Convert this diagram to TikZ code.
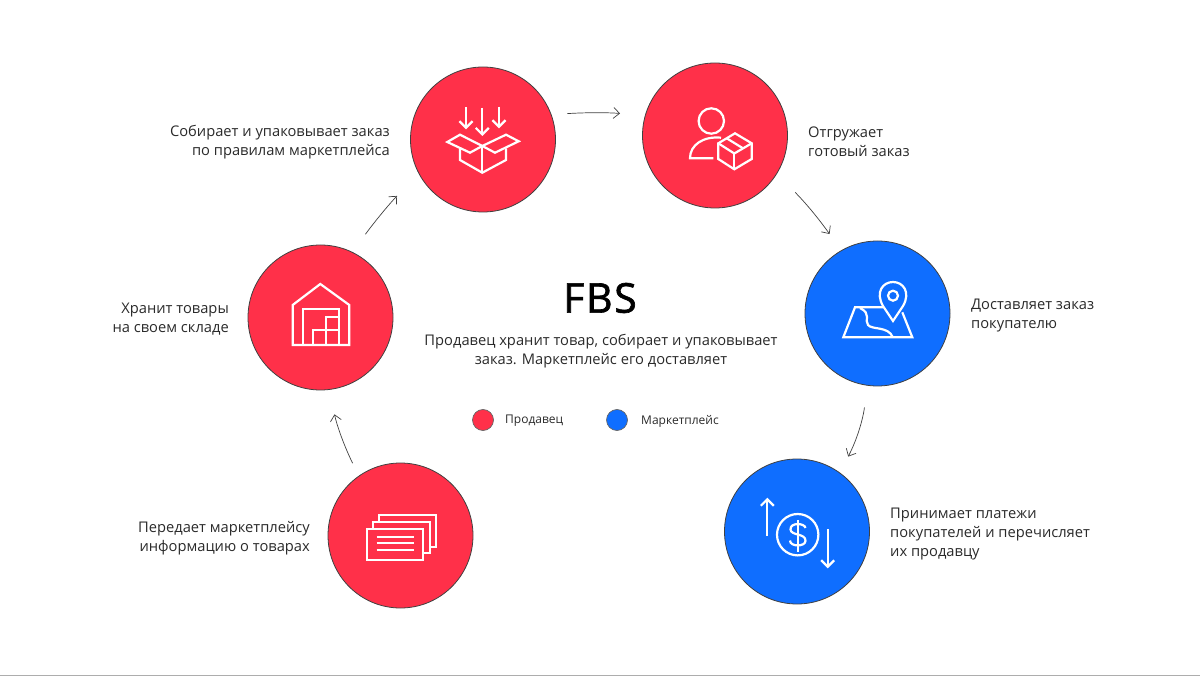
\documentclass[tikz,border=0pt]{standalone}
\usepackage{fontspec}
\setmainfont{Open Sans}
\newfontfamily\titlefont[LetterSpace=4,FakeBold=1.6]{Open Sans}
\usetikzlibrary{arrows.meta}
\definecolor{sellerred}{HTML}{FF3049}
\definecolor{marketblue}{HTML}{0F6EFF}
\definecolor{labelgray}{HTML}{2A2A2A}
\tikzset{
  stage/.style={circle,draw=black!75,line width=0.8pt,minimum size=145pt,inner sep=0pt},
  legend/.style={circle,draw=black!60,line width=0.7pt,minimum size=21pt,inner sep=0pt},
  caption/.style={inner sep=0pt,text=labelgray,font=\fontsize{14.7}{19}\selectfont},
  flow/.style={draw=black!75,line width=0.7pt,-{Straight Barb[length=6pt,width=11pt]}},
  icon/.style={draw=white,line width=2.2pt,line join=miter},
  iconarrow/.style={icon,-{Straight Barb[length=6.5pt,width=13pt]}}
}
\begin{document}
\begin{tikzpicture}[x=1pt,y=-1pt]
        \useasboundingbox (0,0) rectangle (1200,676);
        \fill[black!32] (0,675) rectangle (1200,676);
        \node[stage,fill=sellerred] (pack) at (483,139.5) {};
        \node[stage,fill=sellerred] (ship) at (715,135.5) {};
        \node[stage,fill=marketblue] (deliver) at (877.5,313.5) {};
        \node[stage,fill=marketblue] (pay) at (797,531.5) {};
        \node[stage,fill=sellerred] (info) at (400.5,535.5) {};
        \node[stage,fill=sellerred] (store) at (320.5,317.5) {};
        \draw[flow,shorten <=16pt,shorten >=25pt] (pack.20) to[bend left=4] (ship.164);
        \draw[flow,shorten <=26pt,shorten >=20pt] (ship.-32) to[bend left=5] (deliver.120);
        \draw[flow,shorten <=22pt,shorten >=18pt] (deliver.-98) to[bend left=10] (pay.54);
        \draw[flow,shorten <=14pt,shorten >=25pt] (info.125) to[bend left=7] (store.-83);
        \draw[flow,shorten <=22pt,shorten >=31pt] (store.64) to[bend left=4] (pack.-152);
        \node[caption,anchor=east,align=right] (packtext) at (390,142) {Собирает и упаковывает заказ\\по правилам маркетплейса};
        \node[caption,anchor=west,align=left] (shiptext) at (808,142) {Отгружает\\готовый заказ};
        \node[caption,anchor=west,align=left] (delivertext) at (971,316) {Доставляет заказ\\покупателю};
        \node[caption,anchor=west,align=left] (paytext) at (890,534) {Принимает платежи\\покупателей и перечисляет\\их продавцу};
        \node[caption,anchor=east,align=right] (infotext) at (310,538) {Передает маркетплейсу\\информацию о товарах};
        \node[caption,anchor=east,align=right] (storetext) at (229,319) {Хранит товары\\на своем складе};
        \node[inner sep=0pt,font=\titlefont\fontsize{41}{44}\selectfont] (title) at (600,298) {FBS};
        \node[caption,align=center] (summary) at (601,351) {Продавец хранит товар, собирает и упаковывает\\заказ. Маркетплейс его доставляет};
        \node[legend,fill=sellerred] (sellerdot) at (483,420) {};
        \node[legend,fill=marketblue] (marketdot) at (617,420) {};
        \node[caption,anchor=west,font=\fontsize{12}{15}\selectfont] (sellerlabel) at (505,421) {Продавец};
        \node[caption,anchor=west,font=\fontsize{12}{15}\selectfont] (marketlabel) at (641,421) {Маркетплейс};
        \draw[iconarrow] (466,107.3) -- (466,129.3);
        \draw[iconarrow] (482.3,108) -- (482.3,136);
        \draw[iconarrow] (499,106.7) -- (499,128.3);
        \draw[icon] (482.3,146) -- (460,134.7) -- (447.3,142) -- (470,152.7) -- cycle;
        \draw[icon] (482.3,146) -- (506,134.7) -- (518.7,141.3) -- (495,152.7) -- cycle;
        \draw[icon] (460,148.3) -- (460,160) -- (482.3,172.7) -- (506,160) -- (506,148.3);
        \draw[icon] (482.3,146) -- (482.3,172.7);
        \draw[icon] (711.3,121) circle (12.7);
        \draw[icon] (721,137.7) .. controls (703,136) and (690,145) .. (690,158.3) -- (713.3,158.3);
        \draw[icon] (735,133.3) -- (751.7,143.3) -- (751.7,159) -- (734.3,169.3) -- (718.3,159) -- (718.3,143.3) -- cycle;
        \draw[icon] (718.3,143.3) -- (734.3,153.5) -- (751.7,143.3);
        \draw[icon] (734.3,153.5) -- (734.3,169.3);
        \draw[icon] (726.7,138.3) -- (743.3,148.5);
        \draw[icon] (292.7,345) -- (292.7,305) -- (320.3,284) -- (349.3,305) -- (349.3,345) -- cycle;
        \draw[icon] (302.7,345) -- (302.7,309.3) -- (339.3,309.3) -- (339.3,345);
        \draw[icon] (312.7,345) -- (312.7,330) -- (339.3,330);
        \draw[icon] (326,345) -- (326,317.3) -- (339.3,317.3);
        \draw[icon] (883.3,307.3) -- (855,307.3) -- (843.3,337.3) -- (912.3,337.3) -- (902.3,312.3);
        \draw[icon] (860,308) .. controls (872,314) and (864,320) .. (868,325) .. controls (872,330) and (888,326) .. (892.7,337);
        \draw[icon,fill=marketblue] (893,321) -- (883,306) .. controls (875,292) and (883,282) .. (893,282) .. controls (903,282) and (911,292) .. (903,306) -- cycle;
        \draw[icon] (893,295.7) circle (5);
        \draw[iconarrow] (767.3,536) -- (767.3,497.7);
        \draw[iconarrow] (827.7,529) -- (827.7,568.3);
        \draw[icon] (797.7,534.7) circle (20.7);
        \draw[icon] (797.7,520) -- (797.7,551.7);
        \draw[icon] (805.5,528) .. controls (805,523) and (790,522) .. (790.5,529.5) .. controls (791,536) and (806,533) .. (805.5,541) .. controls (805,547) and (790,547) .. (790,540.5);
        \draw[icon] (366.7,529.3) rectangle (423.3,560);
        \draw[icon] (376.7,537.3) -- (414.3,537.3);
        \draw[icon] (376.7,543.3) -- (414.3,543.3);
        \draw[icon] (376.7,550) -- (414.3,550);
        \draw[icon] (373.3,529.3) -- (373.3,522) -- (430,522) -- (430,552.7) -- (423.3,552.7);
        \draw[icon] (379.3,522) -- (379.3,515) -- (436,515) -- (436,546.7) -- (430,546.7);
\end{tikzpicture}
\end{document}
